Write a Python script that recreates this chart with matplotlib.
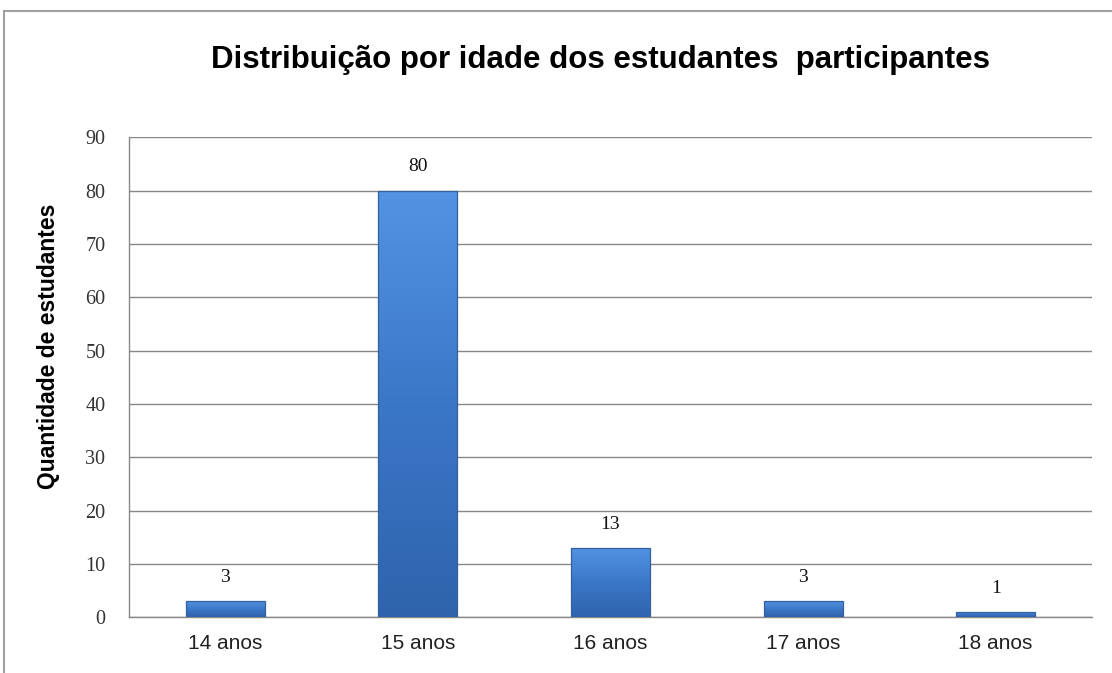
import numpy as np
import matplotlib.pyplot as plt
from matplotlib.patches import Rectangle
from matplotlib.colors import LinearSegmentedColormap

categories = ["14 anos", "15 anos", "16 anos", "17 anos", "18 anos"]
counts = [3, 80, 13, 3, 1]
yticks = [0, 10, 20, 30, 40, 50, 60, 70, 80, 90]

fig = plt.figure(figsize=(11.12, 6.73), dpi=100)
ax = fig.add_axes([0.116, 0.083, 0.866, 0.713])

# outer chart frame
fig.patches.append(Rectangle((0.004, -0.1), 1.1, 1.084, transform=fig.transFigure,
                             fill=False, edgecolor="#a0a0a0", linewidth=1.5))

x = range(len(categories))
bars = ax.bar(x, counts, width=0.41, color="none", edgecolor="#35609c", linewidth=0.9, zorder=4)

# vertical gradient inside each bar, light on top, darker at the bottom
blues = LinearSegmentedColormap.from_list("bar", ["#2f63ad", "#3b77c7", "#5393e4"])
grad = np.linspace(0, 1, 256).reshape(-1, 1)
for b in bars:
    x0, w, h = b.get_x(), b.get_width(), b.get_height()
    im = ax.imshow(grad, cmap=blues, origin="lower", aspect="auto",
                   extent=[x0, x0 + w, 0, h], zorder=3)
    im.set_clip_path(b)

for i, v in enumerate(counts):
    ax.annotate(str(v), (i, v), xytext=(0, 11), textcoords="offset points",
                ha="center", va="bottom", family="Liberation Serif", fontsize=14, color="#111111")

ax.set_xlim(-0.5, len(categories) - 0.5)
ax.set_ylim(0, 90)
ax.set_yticks(yticks)
ax.set_yticklabels([str(t) for t in yticks], family="Liberation Serif", fontsize=14.5, color="#333333")
ax.set_xticks(list(x))
ax.set_xticklabels(categories, family="Liberation Sans", fontsize=15, color="#222222")
ax.tick_params(axis="both", length=0)
ax.tick_params(axis="x", pad=12)
ax.tick_params(axis="y", pad=17)

ax.grid(axis="y", color="#888888", linewidth=1.0, zorder=0)
for side in ["top", "right"]:
    ax.spines[side].set_visible(False)
for side in ["left", "bottom"]:
    ax.spines[side].set_color("#888888")
    ax.spines[side].set_linewidth(1.0)

ax.set_ylabel("Quantidade de estudantes", family="Liberation Sans", fontweight="bold", fontsize=16.5)
ax.yaxis.set_label_coords(-0.072, 0.565)

fig.text(0.54, 0.911, "Distribuição por idade dos estudantes  participantes",
         ha="center", va="center", family="Liberation Sans", fontweight="bold", fontsize=22.5)

fig.savefig("out.png", dpi=100)
